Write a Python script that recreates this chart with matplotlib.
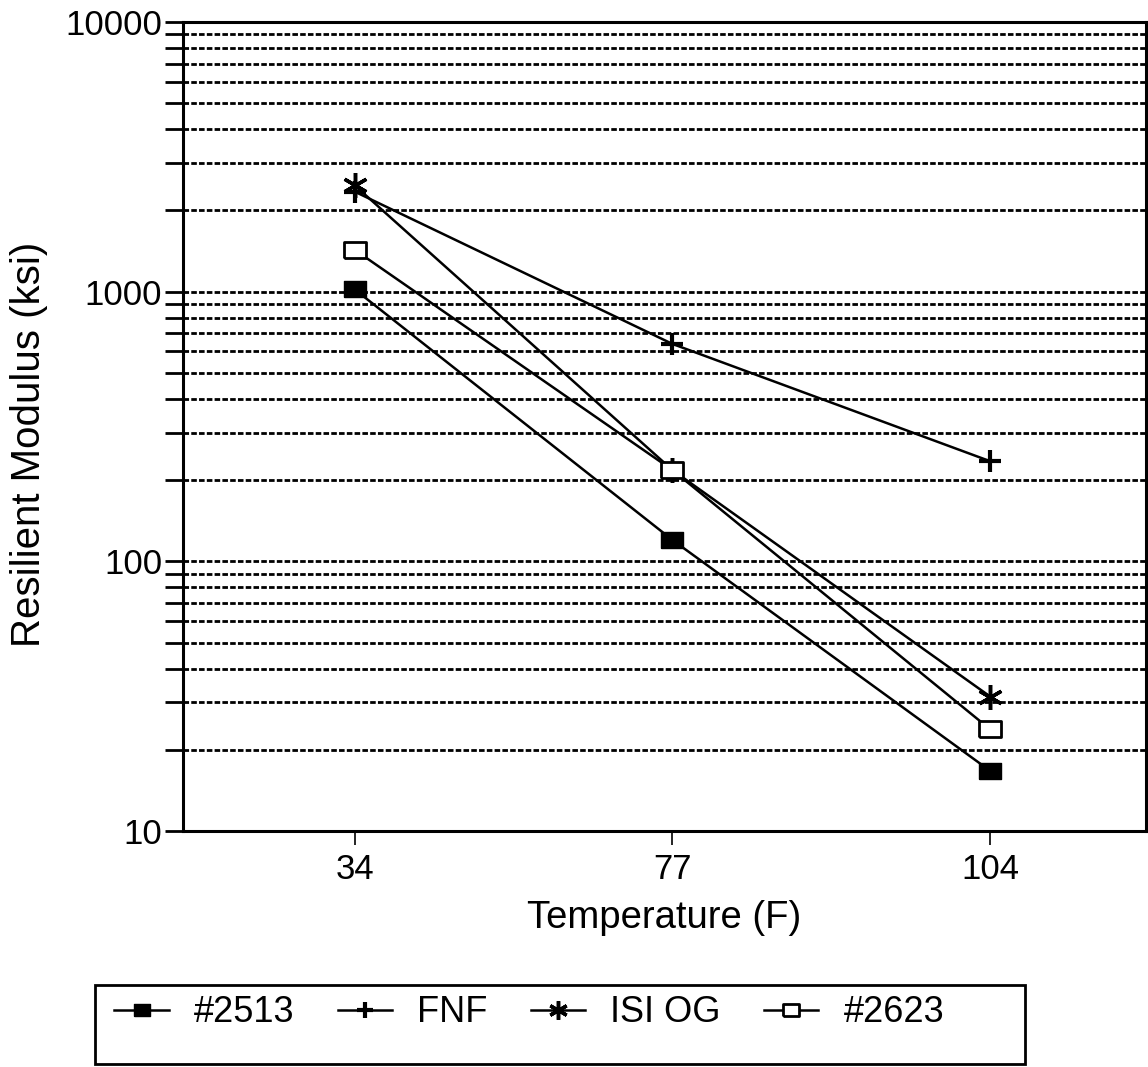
import matplotlib.pyplot as plt
from matplotlib.patches import Rectangle
from matplotlib.ticker import LogLocator, NullFormatter

plt.rcParams['font.family'] = ['Liberation Sans', 'DejaVu Sans']

temps = ["34", "77", "104"]
mix_2513 = [1020, 120, 16.7]
fnf = [2350, 640, 235]
isi_og = [2480, 218, 31.5]
mix_2623 = [1430, 218, 23.8]

# wide rectangle marker like the scanned chart
rect = [(-1.0, -0.7), (1.0, -0.7), (1.0, 0.7), (-1.0, 0.7), (-1.0, -0.7)]

fig = plt.figure(figsize=(11.48, 10.67), dpi=100)
ax = fig.add_axes([183 / 1148, 1 - 831 / 1067, 963 / 1148, 809 / 1067])

x = list(range(len(temps)))
ax.plot(x, mix_2513, color="black", lw=1.8, marker=rect, ms=16,
        mfc="black", mec="black", label="#2513")
ax.plot(x, fnf, color="black", lw=1.8, marker="+", ms=16, mew=3, label="FNF")
ax.plot(x, isi_og, color="black", lw=1.8, marker=(6, 2, 0), ms=18, mew=2.5,
        label="ISI OG")
ax.plot(x, mix_2623, color="black", lw=1.8, marker=rect, ms=16, mfc="white",
        mec="black", mew=2, label="#2623")

ax.set_yscale("log")
ax.set_ylim(10, 10000)
ax.set_xlim(-0.54, 2.49)
ax.set_xticks(x)
ax.set_xticklabels(temps)

ax.yaxis.set_minor_locator(LogLocator(base=10, subs=range(2, 10), numticks=20))
ax.yaxis.set_minor_formatter(NullFormatter())
ax.set_yticks([10, 100, 1000, 10000])
ax.set_yticklabels(["10", "100", "1000", "10000"])
ax.grid(True, which="both", axis="y", color="black", lw=2,
        linestyle=(0, (2, 0.8)))
ax.set_axisbelow(True)

ax.tick_params(axis="y", which="both", direction="out", length=13, width=2,
               labelsize=25, pad=2)
ax.tick_params(axis="x", direction="out", length=10, width=1.2,
               labelsize=25, pad=6)
for s in ax.spines.values():
    s.set_linewidth(2.2)

ax.set_xlabel("Temperature (F)", fontsize=27.5, labelpad=10)
ax.set_ylabel("Resilient Modulus (ksi)", fontsize=29)
ax.yaxis.set_label_coords(-0.14, 0.478)

# legend box: text sits in the upper part of the frame
fig.patches.append(Rectangle((95 / 1148, 1 - 1064 / 1067), 930 / 1148, 79 / 1067,
                             transform=fig.transFigure, fill=False,
                             lw=2, edgecolor="black"))
fig.legend(loc="center left", bbox_to_anchor=(100 / 1148, 1 - 1013 / 1067),
           ncol=4, fontsize=26, frameon=False, handlelength=1.5,
           handletextpad=0.7, columnspacing=1.2, borderaxespad=0,
           markerscale=0.75)

fig.savefig("out.png", dpi=100)
